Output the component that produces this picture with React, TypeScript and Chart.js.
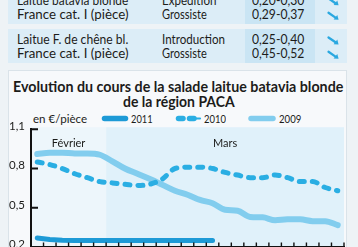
import React, { useEffect, useLayoutEffect, useRef } from 'react';
import { Chart, registerables } from 'chart.js';

Chart.register(...registerables);

// ---------- data ----------
const months = [
  'Février', 'Février', 'Février', 'Février', 'Février', 'Février',
  'Mars', 'Mars', 'Mars', 'Mars', 'Mars', 'Mars', 'Mars', 'Mars', 'Mars', 'Mars',
  'Mars', 'Mars', 'Mars', 'Mars', 'Mars', 'Mars', 'Mars', 'Mars', 'Mars',
];
const seriesLabels = ['2011', '2010', '2009'];
const prices2011 = [0.27, 0.258, 0.252, 0.25, 0.25, 0.25, 0.25, 0.25, 0.25, 0.25, 0.25, 0.25, 0.25, 0.25, 0.25];
const prices2010 = [0.85, 0.83, 0.8, 0.76, 0.73, 0.7, 0.69, 0.68, 0.67, 0.68, 0.72, 0.8, 0.81, 0.81, 0.8, 0.77, 0.75, 0.73, 0.73, 0.75, 0.73, 0.7, 0.7, 0.655, 0.63];
const prices2009 = [0.91, 0.92, 0.92, 0.915, 0.915, 0.905, 0.855, 0.8, 0.76, 0.72, 0.675, 0.63, 0.6, 0.56, 0.535, 0.485, 0.477, 0.43, 0.427, 0.405, 0.412, 0.412, 0.398, 0.397, 0.368];
const yTickValues = [0.2, 0.5, 0.8, 1.1];
const unitLabel = 'en €/pièce';
const titleLines = ['Evolution du cours de la salade laitue batavia blonde', 'de la région PACA'];

const products = ['Laitue batavia blonde', 'France cat. I (pièce)', 'Laitue F. de chêne bl.', 'France cat. I (pièce)'];
const stages = ['Expédition', 'Grossiste', 'Introduction', 'Grossiste'];
const priceRanges = ['0,20-0,30', '0,29-0,37', '0,25-0,40', '0,45-0,52'];

// ---------- styles ----------
const C2011 = '#1d9ad6';
const C2010 = '#2aaee3';
const C2009 = '#82cdee';
const TEXT = '#1c1c1a';
const BAND_COLORS = ['#edf6fb', '#e0f1fa'];

type FitProps = { text: string; x: number; cy: number; w: number; size: number; weight?: number; color?: string };

function FitText({ text, x, cy, w, size, weight = 400, color = TEXT }: FitProps) {
  const ref = useRef<HTMLSpanElement>(null);
  useLayoutEffect(() => {
    const measure = () => {
      const el = ref.current;
      if (!el) return;
      const nat = el.offsetWidth;
      if (nat > 0) el.style.transform = `scaleX(${w / nat})`;
    };
    measure();
    (document as any).fonts?.ready?.then(measure);
  }, [text, w, size]);
  const lh = Math.round(size * 1.3);
  return (
    <span
      ref={ref}
      style={{
        position: 'absolute', left: x, top: cy - lh / 2, height: lh, lineHeight: lh + 'px',
        fontSize: size, fontWeight: weight, fontFamily: 'Lato, sans-serif', color,
        whiteSpace: 'nowrap', transformOrigin: '0 50%', display: 'inline-block',
      }}
    >
      {text}
    </span>
  );
}

function Arrow({ cx, cy }: { cx: number; cy: number }) {
  return (
    <g transform={`translate(${cx},${cy})`}>
      <line x1={-4.5} y1={-3} x2={2.5} y2={1.8} stroke="#2aa8e0" strokeWidth={2.3} strokeLinecap="round" />
      <polygon points="5.6,3.9 0.6,3.7 4.3,-0.9" fill="#2aa8e0" />
    </g>
  );
}

export default function App() {
  const canvasRef = useRef<HTMLCanvasElement>(null);

  useEffect(() => {
    document.body.style.margin = '0';
    const canvas = canvasRef.current;
    if (!canvas) return;
    Chart.defaults.font.family = 'Lato, sans-serif';

    const half = (scale: any) => (scale.getPixelForValue(1) - scale.getPixelForValue(0)) / 2;

    const monthBands = {
      id: 'monthBands',
      beforeDraw(chart: any) {
        const { ctx, chartArea, scales } = chart;
        const x = scales.x;
        const h = half(x);
        ctx.save();
        let start = 0;
        let band = 0;
        for (let i = 1; i <= months.length; i++) {
          if (i === months.length || months[i] !== months[start]) {
            const left = x.getPixelForValue(start) - h;
            const right = x.getPixelForValue(i - 1) + h;
            ctx.fillStyle = BAND_COLORS[band % BAND_COLORS.length];
            ctx.fillRect(left, chartArea.top - 2, right - left, chartArea.bottom - chartArea.top + 2);
            ctx.fillStyle = TEXT;
            ctx.font = '11px Lato, sans-serif';
            ctx.textAlign = 'center';
            ctx.textBaseline = 'alphabetic';
            ctx.fillText(months[start], (left + right) / 2, chartArea.top + 18);
            start = i;
            band++;
          }
        }
        ctx.restore();
      },
      afterDraw(chart: any) {
        const { ctx, chartArea, scales } = chart;
        const x = scales.x;
        const y = scales.y;
        const h = half(x);
        ctx.save();
        ctx.strokeStyle = '#111';
        ctx.lineWidth = 1.4;
        ctx.beginPath();
        for (let i = 0; i < months.length; i++) {
          const px = x.getPixelForValue(i) + h;
          ctx.moveTo(px, chartArea.bottom);
          ctx.lineTo(px, chartArea.bottom - 4.5);
        }
        ctx.stroke();
        ctx.lineWidth = 2;
        ctx.beginPath();
        for (const v of yTickValues) {
          const py = y.getPixelForValue(v);
          ctx.moveTo(chartArea.left, py);
          ctx.lineTo(chartArea.left + 7, py);
        }
        ctx.stroke();
        ctx.restore();
      },
    };

    const chart = new Chart(canvas, {
      type: 'line',
      data: {
        labels: months,
        datasets: [
          { label: seriesLabels[0], data: prices2011, borderColor: C2011, borderWidth: 5, borderCapStyle: 'round', borderJoinStyle: 'round', pointRadius: 0, fill: false },
          { label: seriesLabels[1], data: prices2010, borderColor: C2010, borderWidth: 5, borderDash: [5, 8], borderCapStyle: 'round', borderJoinStyle: 'round', cubicInterpolationMode: 'monotone', pointRadius: 0, fill: false },
          { label: seriesLabels[2], data: prices2009, borderColor: C2009, borderWidth: 6, borderCapStyle: 'round', borderJoinStyle: 'round', cubicInterpolationMode: 'monotone', pointRadius: 0, fill: false },
        ],
      },
      options: {
        animation: false,
        responsive: false,
        events: [],
        layout: { padding: { top: 129.2, right: 14, left: 0, bottom: 0 } },
        plugins: { legend: { display: false }, title: { display: false }, tooltip: { enabled: false } },
        scales: {
          x: {
            type: 'category',
            offset: true,
            grid: { display: false, drawTicks: false },
            ticks: { display: false },
            border: { display: true, color: '#111', width: 2 },
            afterFit: (s: any) => { s.height = 12.6; },
          },
          y: {
            min: 0.2,
            max: 1.1,
            afterBuildTicks: (s: any) => { s.ticks = yTickValues.map((v) => ({ value: v })); },
            grid: { display: false, drawTicks: false },
            border: { display: true, color: '#111', width: 2 },
            ticks: {
              padding: 6,
              labelOffset: -3,
              color: TEXT,
              font: { family: 'Lato, sans-serif', size: 11.5 },
              callback: (v: any) => Number(v).toFixed(1).replace('.', ','),
            },
            afterFit: (s: any) => { s.width = 31; },
          },
        },
      } as any,
      plugins: [monthBands],
    });
    return () => chart.destroy();
  }, []);

  const rowsCy = [0.4, 14.8, 39.5, 53.8];
  const productW = [111.5, 111.7, 111.7, 111.7];
  const stageW = [54.3, 45, 63.3, 45];

  return (
    <div style={{ position: 'fixed', left: 0, top: 0, width: 358, height: 247, overflow: 'hidden', background: '#eef3f6', fontFamily: 'Lato, sans-serif' }}>
      {/* table blocks */}
      <div style={{ position: 'absolute', left: 8, top: -20, width: 339, height: 44, background: '#dcedf7' }} />
      <div style={{ position: 'absolute', left: 8, top: 29, width: 339, height: 34, background: '#dcedf7' }} />
      <div style={{ position: 'absolute', left: 245, top: -20, width: 70, height: 44, background: '#cae5f4' }} />
      <div style={{ position: 'absolute', left: 245, top: 29, width: 70, height: 34, background: '#cae5f4' }} />
      {products.map((t, i) => <FitText key={'p' + i} text={t} x={16.7} cy={rowsCy[i]} w={productW[i]} size={13} />)}
      {stages.map((t, i) => <FitText key={'s' + i} text={t} x={161.7} cy={rowsCy[i]} w={stageW[i]} size={13} />)}
      {priceRanges.map((t, i) => <FitText key={'r' + i} text={t} x={251.7} cy={rowsCy[i]} w={52.3} size={13} />)}

      {/* chart box */}
      <div style={{ position: 'absolute', left: 8, top: 70, width: 339, height: 200, background: '#f7f9fb', border: '1px solid #dae3e9', boxSizing: 'border-box' }} />
      <FitText text={titleLines[0]} x={13} cy={86.2} w={330} size={15} weight={700} />
      <FitText text={titleLines[1]} x={123.3} cy={101.2} w={111.7} size={15} weight={700} />
      <FitText text={unitLabel} x={33} cy={118.7} w={54} size={12} />
      <FitText text={seriesLabels[0]} x={131} cy={118.7} w={21.7} size={12} />
      <FitText text={seriesLabels[1]} x={204} cy={118.7} w={22} size={12} />
      <FitText text={seriesLabels[2]} x={279.3} cy={118.7} w={22.4} size={12} />

      <canvas ref={canvasRef} width={358} height={260} style={{ position: 'absolute', left: 0, top: 0, width: 358, height: 260 }} />

      <svg width={358} height={247} style={{ position: 'absolute', left: 0, top: 0, pointerEvents: 'none' }}>
        {rowsCy.map((cy, i) => <Arrow key={i} cx={333} cy={cy + 1} />)}
        <line x1={104.5} y1={118.5} x2={125.5} y2={118.5} stroke={C2011} strokeWidth={5.5} strokeLinecap="round" />
        <line x1={178.5} y1={118.5} x2={183} y2={118.5} stroke={C2010} strokeWidth={5.5} strokeLinecap="round" />
        <line x1={189.5} y1={118.5} x2={194} y2={118.5} stroke={C2010} strokeWidth={5.5} strokeLinecap="round" />
        <line x1={194} y1={118.5} x2={200} y2={118.5} stroke={C2010} strokeWidth={2.2} strokeLinecap="round" />
        <line x1={251} y1={118.5} x2={273} y2={118.5} stroke={C2009} strokeWidth={5.5} strokeLinecap="round" />
      </svg>
    </div>
  );
}
